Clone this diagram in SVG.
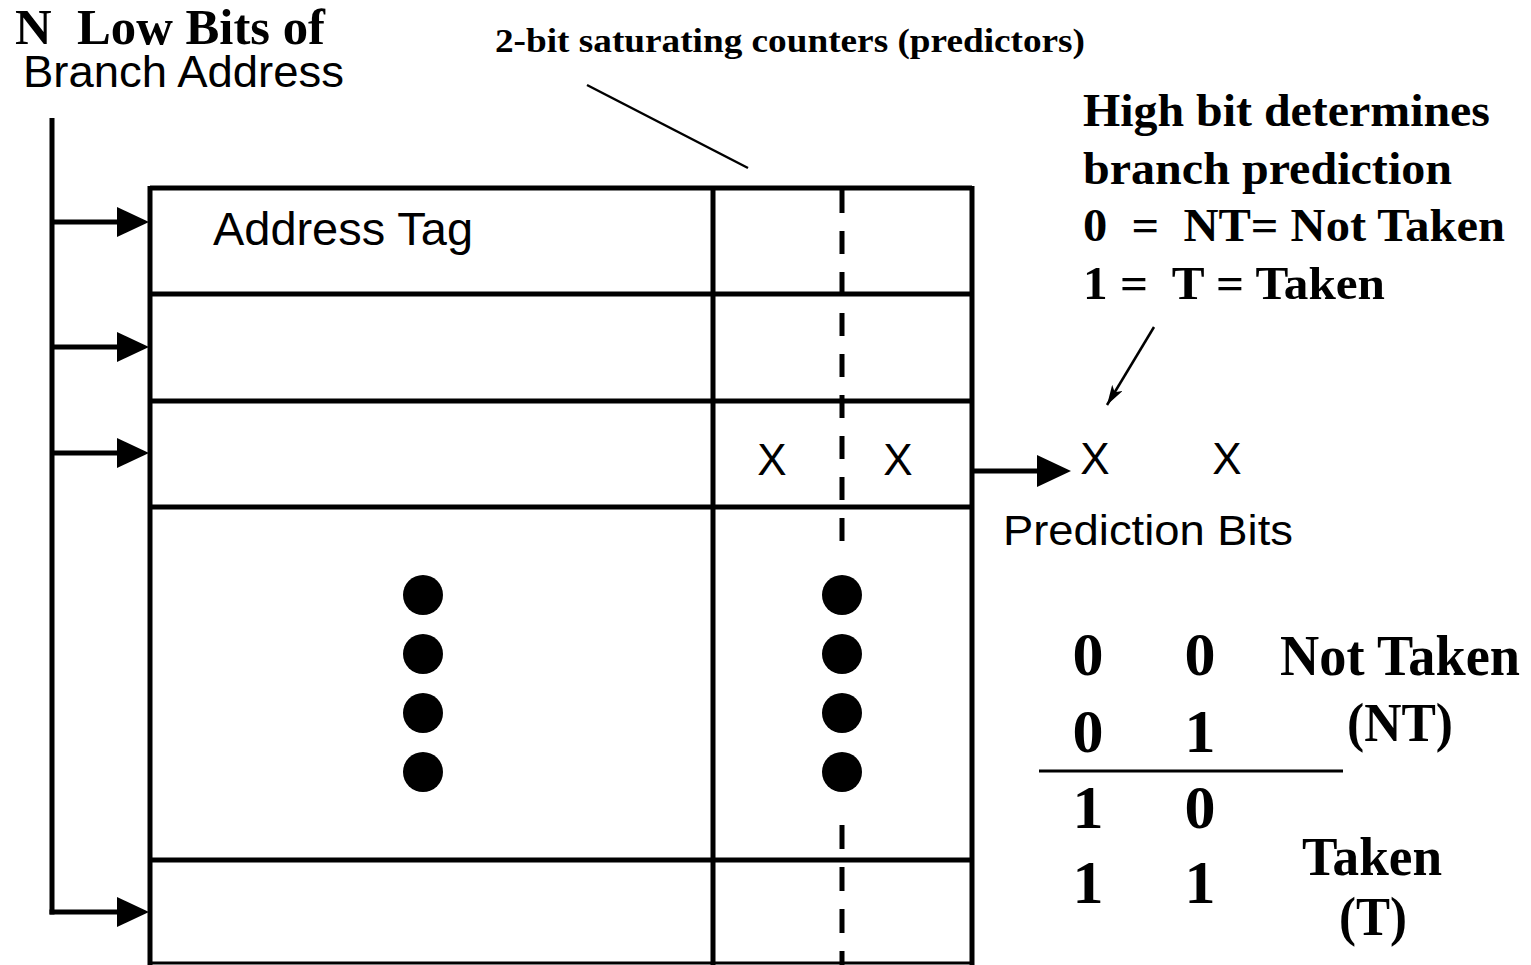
<svg xmlns="http://www.w3.org/2000/svg" width="1531" height="965" viewBox="0 0 1531 965">
<style>
.ser{font-family:"Liberation Serif","Times New Roman",serif;font-weight:bold;fill:#000}
.san{font-family:"Liberation Sans",Arial,sans-serif;fill:#000}
.ln{stroke:#000;stroke-width:5;fill:none}
.dash{stroke:#000;stroke-width:5;fill:none}
.dot{fill:#000}
</style>
<defs>
<marker id="thin" markerUnits="userSpaceOnUse" viewBox="0 0 20 12" refX="20" refY="6" markerWidth="20" markerHeight="12" orient="auto">
<path d="M0,0 L20,6 L0,12 L5,6 Z" fill="#000"/>
</marker>
</defs>
<rect width="1531" height="965" fill="#fff"/>

<g id="title-low-bits">
<text class="ser" x="15" y="44" font-size="50" textLength="310" lengthAdjust="spacingAndGlyphs" xml:space="preserve">N  Low Bits of</text>
<text class="san" x="23" y="87" font-size="44" textLength="321" lengthAdjust="spacingAndGlyphs">Branch Address</text>
</g>

<g id="label-counters">
<text class="ser" x="495" y="52" font-size="33" textLength="590" lengthAdjust="spacingAndGlyphs">2-bit saturating counters (predictors)</text>
</g>

<g id="label-high-bit">
<text class="ser" x="1083" y="126" font-size="47" textLength="407" lengthAdjust="spacingAndGlyphs">High bit determines</text>
<text class="ser" x="1083" y="184" font-size="47" textLength="369" lengthAdjust="spacingAndGlyphs">branch prediction</text>
<text class="ser" x="1083" y="241" font-size="47" textLength="422" lengthAdjust="spacingAndGlyphs" xml:space="preserve">0  =  NT= Not Taken</text>
<text class="ser" x="1083" y="299" font-size="47" textLength="302" lengthAdjust="spacingAndGlyphs" xml:space="preserve">1 =  T = Taken</text>
</g>

<g id="table">
<g id="table-cells" class="ln">
<line x1="150" y1="188" x2="972" y2="188"/>
<line x1="150" y1="294" x2="972" y2="294"/>
<line x1="150" y1="401" x2="972" y2="401"/>
<line x1="150" y1="507" x2="972" y2="507"/>
<line x1="150" y1="860" x2="972" y2="860"/>
<line x1="150" y1="963" x2="972" y2="963" stroke-width="3"/>
<line x1="150" y1="186" x2="150" y2="965"/>
<line x1="972" y1="186" x2="972" y2="965"/>
<line x1="713" y1="188" x2="713" y2="965"/>
</g>
<line class="dash" x1="842" y1="190" x2="842" y2="545" stroke-dasharray="23 18"/>
<line class="dash" x1="842" y1="825" x2="842" y2="965" stroke-dasharray="24 18"/>
<text class="san" x="213" y="245" font-size="46" textLength="260" lengthAdjust="spacingAndGlyphs">Address Tag</text>
<text class="san" x="772" y="475" font-size="44" text-anchor="middle">X</text>
<text class="san" x="898" y="475" font-size="44" text-anchor="middle">X</text>
<circle class="dot" cx="423" cy="595" r="20"/>
<circle class="dot" cx="423" cy="654" r="20"/>
<circle class="dot" cx="423" cy="713" r="20"/>
<circle class="dot" cx="423" cy="772" r="20"/>
<circle class="dot" cx="842" cy="595" r="20"/>
<circle class="dot" cx="842" cy="654" r="20"/>
<circle class="dot" cx="842" cy="713" r="20"/>
<circle class="dot" cx="842" cy="772" r="20"/>
</g>

<g id="prediction-bits">
<text class="san" x="1095" y="474" font-size="44" text-anchor="middle">X</text>
<text class="san" x="1227" y="474" font-size="44" text-anchor="middle">X</text>
<text class="san" x="1003" y="545" font-size="42" textLength="290" lengthAdjust="spacingAndGlyphs">Prediction Bits</text>
</g>

<g id="state-table">
<g class="ser" font-size="62" text-anchor="middle">
<text x="1088" y="675">0</text><text x="1200" y="675">0</text>
<text x="1088" y="752">0</text><text x="1200" y="752">1</text>
<text x="1088" y="828">1</text><text x="1200" y="828">0</text>
<text x="1088" y="903">1</text><text x="1200" y="903">1</text>
</g>
<line x1="1039" y1="771" x2="1343" y2="771" stroke="#000" stroke-width="3"/>
<text class="ser" x="1280" y="675" font-size="56" textLength="240" lengthAdjust="spacingAndGlyphs">Not Taken</text>
<text class="ser" x="1347" y="741" font-size="54" textLength="106" lengthAdjust="spacingAndGlyphs">(NT)</text>
<text class="ser" x="1302" y="875" font-size="54" textLength="140" lengthAdjust="spacingAndGlyphs">Taken</text>
<text class="ser" x="1339" y="935" font-size="54" textLength="68" lengthAdjust="spacingAndGlyphs">(T)</text>
</g>

<g id="connectors">
<line class="ln" x1="52" y1="118" x2="52" y2="914.5"/>
<line class="ln" x1="49.5" y1="912" x2="120" y2="912"/>
<line class="ln" x1="52" y1="222" x2="120" y2="222"/>
<line class="ln" x1="52" y1="347" x2="120" y2="347"/>
<line class="ln" x1="52" y1="453" x2="120" y2="453"/>
<path d="M117,207 L149,222 L117,237 Z" fill="#000"/>
<path d="M117,332 L149,347 L117,362 Z" fill="#000"/>
<path d="M117,438 L149,453 L117,468 Z" fill="#000"/>
<path d="M117,897 L149,912 L117,927 Z" fill="#000"/>
<line class="ln" x1="972" y1="471" x2="1040" y2="471"/>
<path d="M1037,455 L1071,471 L1037,487 Z" fill="#000"/>
<line x1="587" y1="85" x2="748" y2="168" stroke="#000" stroke-width="2.5"/>
<line x1="1154" y1="327" x2="1107" y2="405" stroke="#000" stroke-width="2.5" marker-end="url(#thin)"/>
</g>
</svg>
